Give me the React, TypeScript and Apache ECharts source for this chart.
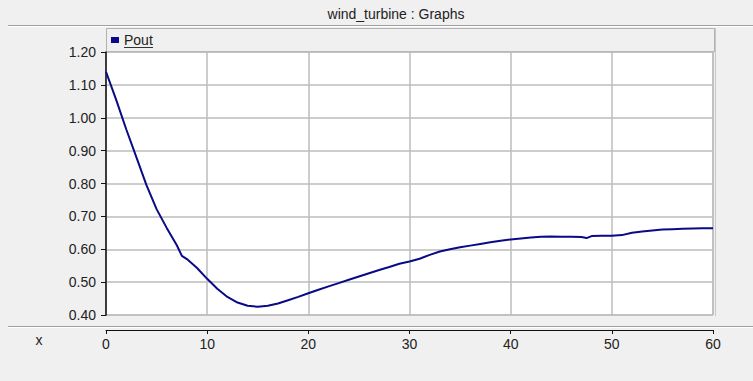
import React, { useEffect, useRef } from "react";
import * as echarts from "echarts";

const chartTitle = "wind_turbine : Graphs";
const seriesName = "Pout";
const xAxisName = "x";
const timeValues = [
  0, 1, 2, 3, 4, 5, 6, 7, 7.5, 8, 9, 10, 11, 12, 13, 14, 15, 16, 17, 18, 19, 20,
  21, 22, 23, 24, 25, 26, 27, 28, 29, 30, 31, 32, 33, 34, 35, 36, 37, 38, 39, 40,
  41, 42, 43, 44, 45, 46, 47, 47.5, 48, 49, 50, 51, 52, 53, 54, 55, 56, 57, 58, 59, 60,
];
const poutValues = [
  1.14, 1.055, 0.965, 0.88, 0.795, 0.722, 0.665, 0.612, 0.58, 0.57, 0.543, 0.51, 0.48,
  0.455, 0.438, 0.428, 0.425, 0.428, 0.435, 0.445, 0.455, 0.466, 0.477, 0.487, 0.497,
  0.507, 0.517, 0.527, 0.537, 0.546, 0.556, 0.563, 0.571, 0.583, 0.593, 0.6, 0.606,
  0.611, 0.616, 0.621, 0.626, 0.63, 0.633, 0.636, 0.638, 0.639, 0.638, 0.638, 0.637,
  0.634, 0.64, 0.641, 0.641, 0.643, 0.65, 0.654, 0.657, 0.66, 0.661, 0.662, 0.663,
  0.664, 0.664,
];

const FONT = "'Liberation Sans', Arial, sans-serif";

export default function App() {
  const ref = useRef<HTMLDivElement>(null);
  useEffect(() => {
    if (!ref.current) return;
    const chart = echarts.init(ref.current, null, { renderer: "svg" });
    const data = timeValues.map((t, i) => [t, poutValues[i]]);
    chart.setOption({
      animation: false,
      backgroundColor: "#f0f0f0",
      textStyle: { fontFamily: FONT },
      legend: {
        left: 111,
        top: 33,
        padding: 0,
        itemWidth: 8,
        itemHeight: 6,
        itemGap: 6,
        icon: "rect",
        data: [{ name: seriesName, icon: "rect" }],
        textStyle: { fontFamily: FONT, fontSize: 14, color: "#222", padding: [0, 0, 0, 0] },
        selectedMode: false,
      },
      grid: {
        left: 106,
        top: 52,
        width: 607,
        height: 263,
        show: true,
        backgroundColor: "#ffffff",
        borderColor: "#a8a8a8",
        borderWidth: 1,
      },
      xAxis: {
        type: "value",
        min: 0,
        max: 60,
        interval: 10,
        offset: 15,
        axisLine: { show: true, lineStyle: { color: "#111", width: 1 } },
        axisTick: { show: true, length: 4, lineStyle: { color: "#111" } },
        axisLabel: { color: "#222", fontSize: 14, fontFamily: FONT, margin: 7 },
        splitLine: { show: true, lineStyle: { color: "#bcbcbc", width: 1.5 } },
      },
      yAxis: {
        type: "value",
        min: 0.4,
        max: 1.2,
        interval: 0.1,
        axisLine: { show: true, lineStyle: { color: "#111", width: 1.5 } },
        axisTick: { show: true, length: 5, lineStyle: { color: "#111" } },
        axisLabel: {
          color: "#222",
          fontSize: 14,
          fontFamily: FONT,
          margin: 10,
          formatter: (v: number) => v.toFixed(2),
        },
        splitLine: { show: true, lineStyle: { color: "#bcbcbc", width: 1.5 } },
      },
      series: [
        {
          name: seriesName,
          type: "line",
          data,
          showSymbol: false,
          smooth: false,
          lineStyle: { color: "#0a0a86", width: 2 },
          itemStyle: { color: "#0a0a86" },
        },
      ],
      graphic: [
        {
          type: "text",
          x: 396,
          y: 14,
          style: {
            text: chartTitle,
            fontFamily: FONT,
            fontSize: 14,
            fill: "#222",
            align: "center",
            verticalAlign: "middle",
          },
        },
        {
          type: "line",
          shape: { x1: 8, y1: 25.5, x2: 753, y2: 25.5 },
          style: { stroke: "#a0a0a0", lineWidth: 1 },
        },
        {
          type: "line",
          shape: { x1: 8, y1: 26.5, x2: 753, y2: 26.5 },
          style: { stroke: "#ffffff", lineWidth: 1 },
        },
        {
          type: "rect",
          shape: { x: 106.5, y: 28.5, width: 608, height: 23 },
          style: { fill: "none", stroke: "#b0b0b0", lineWidth: 1 },
          z: -1,
        },
        {
          type: "line",
          shape: { x1: 715.5, y1: 28, x2: 715.5, y2: 316 },
          style: { stroke: "#c8c8c8", lineWidth: 1 },
        },
        {
          type: "line",
          shape: { x1: 124, y1: 47.5, x2: 153, y2: 47.5 },
          style: { stroke: "#333", lineWidth: 1 },
        },
        {
          type: "line",
          shape: { x1: 8, y1: 326.5, x2: 753, y2: 326.5 },
          style: { stroke: "#a0a0a0", lineWidth: 1 },
        },
        {
          type: "line",
          shape: { x1: 8, y1: 327.5, x2: 753, y2: 327.5 },
          style: { stroke: "#ffffff", lineWidth: 1 },
        },
        {
          type: "text",
          x: 39,
          y: 340,
          style: {
            text: xAxisName,
            fontFamily: FONT,
            fontSize: 14,
            fill: "#222",
            align: "center",
            verticalAlign: "middle",
          },
        },
      ],
    });
    return () => chart.dispose();
  }, []);
  return (
    <div
      ref={ref}
      style={{ position: "absolute", left: 0, top: 0, width: 753, height: 381 }}
    />
  );
}
